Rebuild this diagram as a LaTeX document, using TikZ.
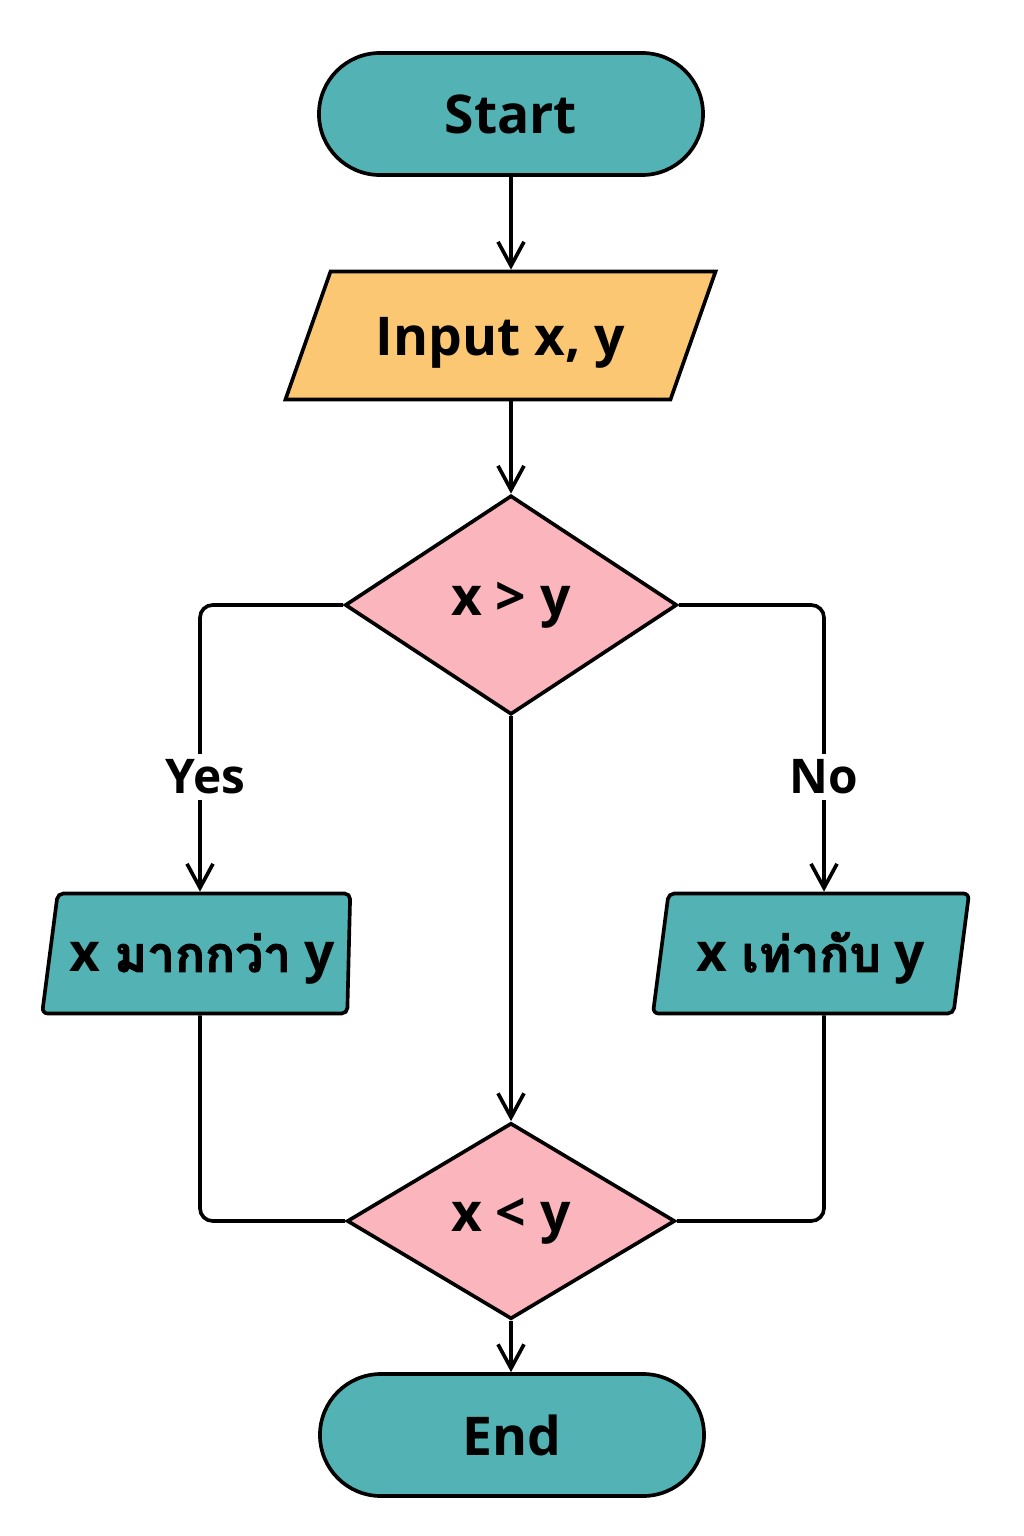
\documentclass[tikz,border=0pt]{standalone}
\usepackage{fontspec}
\setmainfont{Open Sans}
\newfontfamily\thaifont[Script=Thai,Scale=0.93,FakeBold=2]{Loma}
\usetikzlibrary{shapes.geometric,shapes.misc,arrows.meta}
\definecolor{tealfill}{HTML}{53B2B3}
\definecolor{orangefill}{HTML}{FBC773}
\definecolor{pinkfill}{HTML}{FBB5BD}
\begin{document}
\begin{tikzpicture}[x=0.025cm,y=-0.025cm,
  base/.style={draw=black, line width=2.6pt, inner sep=0pt, font=\fontsize{38}{46}\selectfont\bfseries},
  term/.style={base, rounded rectangle, fill=tealfill, minimum width=9.6cm, minimum height=3.05cm},
  io/.style={base, trapezium, trapezium stretches body, fill=orangefill, minimum width=10.75cm, text height=2.1cm, text depth=1.1cm, trapezium left angle=70.6, trapezium right angle=109.4},
  dec/.style={base, diamond, fill=pinkfill},
  outbox/.style={base, trapezium, trapezium stretches body, fill=tealfill, rounded corners=4pt, text height=1.96cm, text depth=1.04cm},
  flow/.style={line width=2.6pt, rounded corners=9pt, -{Straight Barb[length=6mm,width=6.5mm]}},
  plain/.style={line width=2.6pt, rounded corners=9pt},
  lbl/.style={fill=white, font=\fontsize{34}{40}\selectfont\bfseries, inner sep=4pt}]
\useasboundingbox (0,0) rectangle (1024,1536);
\node[term] (start) at (511,114) {Start};
\node[io] (input) at (500.5,335.5) {Input x, y};
\node[dec, minimum width=8.3cm, minimum height=5.475cm] (d1) at (511,605) {x > y};
\node[dec, minimum width=8.2cm, minimum height=4.9cm] (d2) at (511,1221) {x < y};
\node[outbox, minimum width=7.7cm, trapezium left angle=82.6, trapezium right angle=91.4] (lp) at (202.5,953.5) {x {\thaifont มากกว่า} y};
\node[outbox, minimum width=7.9cm, trapezium left angle=82.6, trapezium right angle=97.4] (rp) at (811,953.5) {x {\thaifont เท่ากับ} y};
\node[term] (end) at (512,1435) {End};
\coordinate (lx) at (200,0);
\coordinate (rx) at (824,0);
\draw[flow] (start.south) -- (start.south |- input.north);
\draw[flow] (d1.north |- input.south) -- (d1.north);
\draw[flow] (d1.west) -| (lx |- lp.north) node[lbl, pos=0.8, xshift=4pt] {Yes};
\draw[flow] (d1.east) -| (rx |- rp.north) node[lbl, pos=0.8] {No};
\draw[flow] (d1.south) -- (d2.north);
\draw[plain] (lx |- lp.south) |- (d2.west);
\draw[plain] (rx |- rp.south) |- (d2.east);
\draw[flow] (d2.south) -- (d2.south |- end.north);
\end{tikzpicture}
\end{document}
